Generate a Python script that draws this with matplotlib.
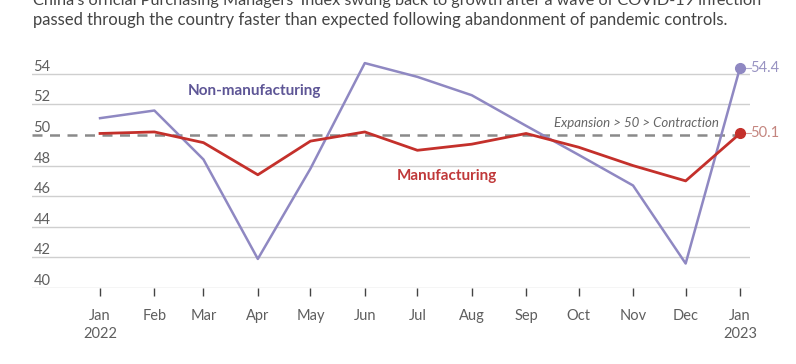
import matplotlib
matplotlib.use("Agg")
import matplotlib.pyplot as plt
import matplotlib.transforms as mtrans
import datetime as dt

months = ["2022-01", "2022-02", "2022-03", "2022-04", "2022-05", "2022-06", "2022-07",
          "2022-08", "2022-09", "2022-10", "2022-11", "2022-12", "2023-01"]
manufacturing = [50.1, 50.2, 49.5, 47.4, 49.6, 50.2, 49.0, 49.4, 50.1, 49.2, 48.0, 47.0, 50.1]
non_manufacturing = [51.1, 51.6, 48.4, 41.9, 47.8, 54.7, 53.8, 52.6, 50.6, 48.7, 46.7, 41.6, 54.4]
tick_labels = ["Jan\n2022", "Feb", "Mar", "Apr", "May", "Jun", "Jul", "Aug", "Sep", "Oct",
               "Nov", "Dec", "Jan\n2023"]
y_ticks = [40, 42, 44, 46, 48, 50, 52, 54]

dates = [dt.datetime.strptime(m, "%Y-%m") for m in months]

plt.rcParams['font.family'] = ['Lato', 'DejaVu Sans']

W, H = 796, 364
fig = plt.figure(figsize=(W / 100, H / 100), dpi=100)
ax = fig.add_axes([32 / W, 1 - 288 / H, (750 - 32) / W, (288 - 58.5) / H])

x0 = dates[0] - dt.timedelta(days=38.8)
x1 = dates[-1] + dt.timedelta(days=5.7)
ax.set_xlim(x0, x1)
ax.set_ylim(40, 55)

purple = "#8f88c2"
red = "#c4302b"
grid = "#cfcfcf"
txt = "#5f5f5f"

for s in ax.spines.values():
    s.set_visible(False)

for v in y_ticks:
    if v == 50:
        continue
    ax.axhline(v, color=grid, lw=1.0, zorder=1)
ax.axhline(50, color="#8a8a8a", lw=1.8, ls=(0, (4, 3)), zorder=2)

trans = mtrans.blended_transform_factory(ax.transAxes, ax.transData)
for v in y_ticks:
    ax.text(0.002, v + 0.2, str(v), transform=trans, ha="left", va="baseline",
            fontsize=10.5, color=txt)
ax.set_yticks([])

ax.plot(dates, non_manufacturing, color=purple, lw=1.8, zorder=3)
ax.plot(dates, manufacturing, color=red, lw=2.0, zorder=4)
ax.plot([dates[-1]], [non_manufacturing[-1]], "o", color=purple, ms=7, zorder=5)
ax.plot([dates[-1]], [manufacturing[-1]], "o", color=red, ms=7, zorder=5)

xl = dates[-1] + dt.timedelta(days=2)
xr = dates[-1] + dt.timedelta(days=6)
ax.plot([xl, xr], [non_manufacturing[-1]] * 2, color="#b0abd2", lw=0.8, clip_on=False)
ax.plot([xl, xr], [manufacturing[-1]] * 2, color="#d49a94", lw=0.8, clip_on=False)
ax.text(xr, non_manufacturing[-1], f"{non_manufacturing[-1]:.1f}", ha="left", va="center",
        fontsize=10.5, color="#9893c2", clip_on=False)
ax.text(xr, manufacturing[-1], f"{manufacturing[-1]:.1f}", ha="left", va="center",
        fontsize=10.5, color="#c4857f", clip_on=False)

ax.set_xticks(dates)
ax.set_xticklabels(tick_labels, fontsize=10.5, color=txt, linespacing=1.35)
ax.tick_params(axis="x", length=6, width=1, color="#444444", pad=9)

ax.text(dt.datetime(2022, 12, 20), 50.4, "Expansion > 50 > Contraction", ha="right",
        va="bottom", fontsize=9.5, style="italic", color="#666666")
ax.text(dt.datetime(2022, 3, 30), 52.87, "Non-manufacturing", ha="center", va="center",
        fontsize=11, fontweight="bold", color="#5e5696")
ax.text(dt.datetime(2022, 7, 18), 47.3, "Manufacturing", ha="center", va="center",
        fontsize=11, fontweight="bold", color="#c0393a")

fig.text(33 / W, 1 - 5 / H,
         "China's official Purchasing Managers' Index swung back to growth after a wave of COVID-19 infection",
         ha="left", va="baseline", fontsize=11.7, color="#444444")
fig.text(33 / W, 1 - 25 / H,
         "passed through the country faster than expected following abandonment of pandemic controls.",
         ha="left", va="baseline", fontsize=12, color="#444444")

fig.savefig("out.png", dpi=100, facecolor="white")
